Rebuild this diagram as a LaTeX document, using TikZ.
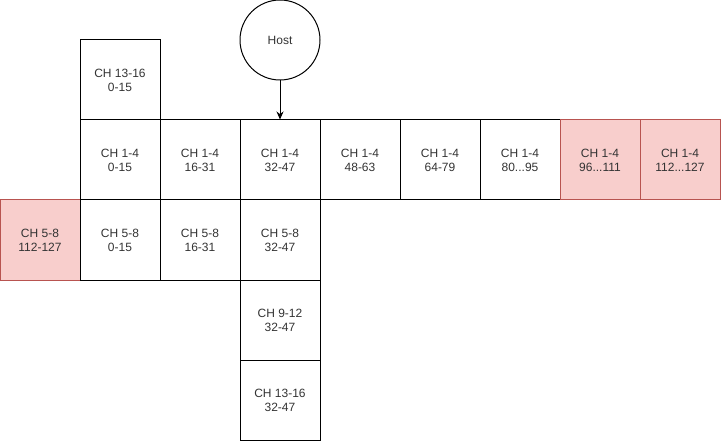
\documentclass[tikz,border=0pt]{standalone}
\usepackage{fontspec}
\setmainfont{Liberation Sans}
\usetikzlibrary{arrows.meta}
\definecolor{redfill}{HTML}{F8CECC}
\definecolor{redline}{HTML}{B85450}
\definecolor{txt}{HTML}{333333}
\begin{document}
\begin{tikzpicture}[x=1pt,y=-1pt,
  cell/.style={draw=black,line width=1pt,minimum width=80pt,minimum height=80pt,inner sep=0pt,align=center,text=txt,font=\fontsize{12}{14}\selectfont},
  redcell/.style={cell,fill=redfill,draw=redline},
  hostnode/.style={circle,draw=black,line width=1pt,minimum size=80pt,inner sep=0pt,text=txt,font=\fontsize{12}{14}\selectfont},
  conn/.style={line width=1pt,-{Stealth[length=8pt,width=7pt]}}]
\useasboundingbox (0,0) rectangle (721,441);
\node[hostnode] (host) at (280,40) {Host};
\node[cell] (a13) at (120,80) {CH 13-16\\0-15};
\node[cell] (r1) at (120,160) {CH 1-4\\0-15};
\node[cell] (r2) at (200,160) {CH 1-4\\16-31};
\node[cell] (r3) at (280,160) {CH 1-4\\32-47};
\node[cell] (r4) at (360,160) {CH 1-4\\48-63};
\node[cell] (r5) at (440,160) {CH 1-4\\64-79};
\node[cell] (r6) at (520,160) {CH 1-4\\80...95};
\node[redcell] (r7) at (600,160) {CH 1-4\\96...111};
\node[redcell] (r8) at (680,160) {CH 1-4\\112...127};
\node[redcell] (s0) at (40,240) {CH 5-8\\112-127};
\node[cell] (s1) at (120,240) {CH 5-8\\0-15};
\node[cell] (s2) at (200,240) {CH 5-8\\16-31};
\node[cell] (s3) at (280,240) {CH 5-8\\32-47};
\node[cell] (t3) at (280,320) {CH 9-12\\32-47};
\node[cell] (u3) at (280,400) {CH 13-16\\32-47};
\draw[conn] (host) -- (r3);
\end{tikzpicture}
\end{document}
